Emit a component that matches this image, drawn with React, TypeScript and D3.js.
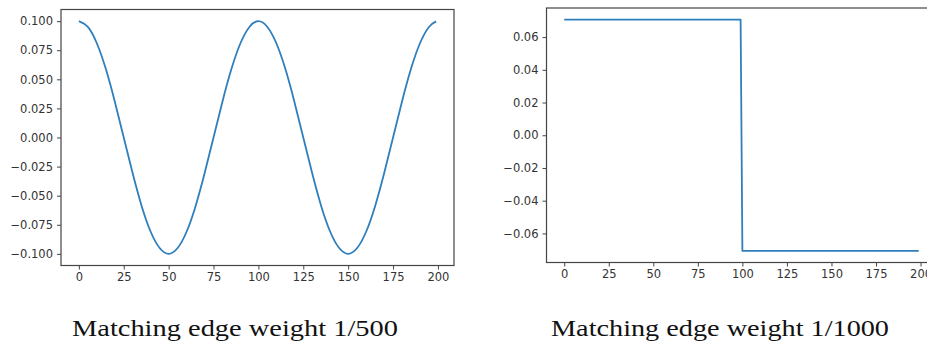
import { useEffect, useRef, FC } from 'react';
import * as d3 from 'd3';

// left panel: every 5 steps
const waveX = [
  0, 5, 10, 15, 20, 25, 30, 35, 40, 45, 50, 55, 60, 65, 70, 75, 80, 85, 90, 95,
  100, 105, 110, 115, 120, 125, 130, 135, 140, 145, 150, 155, 160, 165, 170, 175, 180, 185, 190, 195, 199,
];
const waveY = [
  0.1, 0.095, 0.081, 0.059, 0.031, 0.0, -0.031, -0.059, -0.081, -0.095,
  -0.1, -0.095, -0.081, -0.059, -0.031, 0.0, 0.031, 0.059, 0.081, 0.095,
  0.1, 0.095, 0.081, 0.059, 0.031, 0.0, -0.031, -0.059, -0.081, -0.095,
  -0.1, -0.095, -0.081, -0.059, -0.031, 0.0, 0.031, 0.059, 0.081, 0.095, 0.0998,
];

// right panel: a single step
const stepX = [0, 99, 100, 199];
const stepY = [0.0707, 0.0707, -0.0707, -0.0707];

const xTicks = [0, 25, 50, 75, 100, 125, 150, 175, 200];
const waveTicks = [-0.1, -0.075, -0.05, -0.025, 0, 0.025, 0.05, 0.075, 0.1];
const stepTicks = [-0.06, -0.04, -0.02, 0, 0.02, 0.04, 0.06];

const captions = ['Matching edge weight 1/500', 'Matching edge weight 1/1000'];

interface PanelSpec {
  left: number;
  right: number;
  top: number;
  bottom: number;
  xs: number[];
  ys: number[];
  yTicks: number[];
  digits: number;
  curve: d3.CurveFactory;
}

const drawPanel = (
  svg: d3.Selection<SVGSVGElement, unknown, null, undefined>,
  p: PanelSpec
) => {
  const xExt = d3.extent(p.xs) as [number, number];
  const yExt = d3.extent(p.ys) as [number, number];
  const mx = (xExt[1] - xExt[0]) * 0.05;
  const my = (yExt[1] - yExt[0]) * 0.05;

  const x = d3.scaleLinear().domain([xExt[0] - mx, xExt[1] + mx]).range([p.left, p.right]);
  const y = d3.scaleLinear().domain([yExt[0] - my, yExt[1] + my]).range([p.bottom, p.top]);

  const fmt = (v: number) => d3.format(`.${p.digits}f`)(v).replace('-', '\u2212');

  const g = svg.append('g');

  g.append('path')
    .datum(p.xs.map((v, i) => [v, p.ys[i]] as [number, number]))
    .attr('fill', 'none')
    .attr('stroke', '#2f7fbd')
    .attr('stroke-width', 1.8)
    .attr('stroke-linejoin', 'round')
    .attr('d', d3.line<[number, number]>().x((d) => x(d[0])).y((d) => y(d[1])).curve(p.curve));

  const styleAxis = (a: d3.Selection<SVGGElement, unknown, null, undefined>) => {
    a.select('.domain').remove();
    a.selectAll('.tick line').attr('stroke', '#444').attr('stroke-width', 1);
    a.selectAll('.tick text')
      .attr('fill', '#333')
      .style('font-family', '"DejaVu Sans", sans-serif')
      .style('font-size', '11.5px');
  };

  g.append('g')
    .attr('transform', `translate(0,${p.bottom})`)
    .call(d3.axisBottom(x).tickValues(xTicks).tickSize(4).tickPadding(3).tickFormat((d) => String(d)))
    .call(styleAxis);

  g.append('g')
    .attr('transform', `translate(${p.left},0)`)
    .call(d3.axisLeft(y).tickValues(p.yTicks).tickSize(4).tickPadding(4).tickFormat((d) => fmt(d as number)))
    .call(styleAxis);

  g.append('rect')
    .attr('x', p.left)
    .attr('y', p.top)
    .attr('width', p.right - p.left)
    .attr('height', p.bottom - p.top)
    .attr('fill', 'none')
    .attr('stroke', '#444')
    .attr('stroke-width', 1.2);
};

const App: FC = () => {
  const ref = useRef<SVGSVGElement>(null);

  useEffect(() => {
    const svg = d3.select(ref.current as SVGSVGElement);
    svg.selectAll('*').remove();

    drawPanel(svg, {
      left: 61, right: 454, top: 9.5, bottom: 265.5,
      xs: waveX, ys: waveY, yTicks: waveTicks, digits: 3,
      curve: d3.curveNatural,
    });

    drawPanel(svg, {
      left: 546.5, right: 936.5, top: 8, bottom: 262.5,
      xs: stepX, ys: stepY, yTicks: stepTicks, digits: 2,
      curve: d3.curveLinear,
    });

    svg.append('g')
      .selectAll('text')
      .data(captions)
      .join('text')
      .attr('x', (_d, i) => (i === 0 ? 72 : 551))
      .attr('y', 336)
      .attr('textLength', (_d, i) => (i === 0 ? 326 : 338))
      .attr('lengthAdjust', 'spacingAndGlyphs')
      .attr('fill', '#111')
      .style('font-family', '"Liberation Serif", serif')
      .style('font-size', '23px')
      .text((d) => d);
  }, []);

  return (
    <svg
      ref={ref}
      width={927}
      height={343}
      style={{ position: 'absolute', left: 0, top: 0, background: '#fff' }}
    />
  );
};

export default App;
